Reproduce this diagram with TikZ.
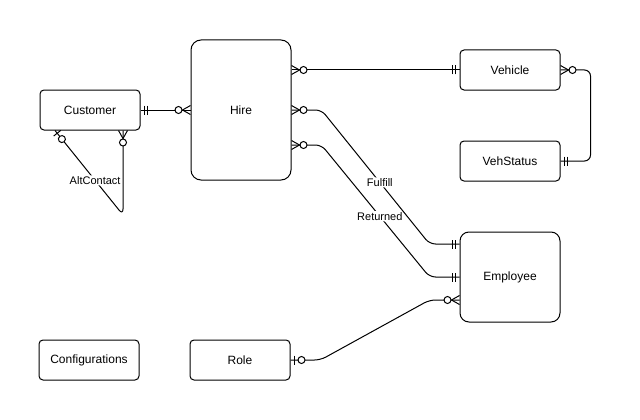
\documentclass[tikz,border=0pt]{standalone}
\usepackage{fontspec}
\setmainfont{Liberation Sans}
\usetikzlibrary{positioning, decorations.markings}

\tikzstyle{entity} = [rectangle, rounded corners=4pt, minimum width=100pt, minimum height=40pt, text centered, draw=black, fill=white]
\tikzstyle{rel} = [rounded corners=6pt]
\tikzstyle{lbl} = [fill=white, inner sep=1pt, font=\fontsize{11}{13}\selectfont]

\tikzset{
  mone/.pic={\draw[sharp corners] (4,-4.5) -- (4,4.5) (7,-4.5) -- (7,4.5);},
  zone/.pic={\draw[sharp corners] (3.5,-4.5) -- (3.5,4.5); \draw[fill=white] (11,0) circle (3.5);},
  zmany/.pic={\draw[sharp corners] (0,-4.5) -- (8,0) -- (0,4.5); \draw[fill=white] (12,0) circle (3.5);},
  srcmark/.style={postaction={decorate, decoration={markings, mark=at position 0 with {\pic[transform shape]{#1};}}}},
  dstmark/.style={postaction={decorate, decoration={markings, mark=at position 1 with {\pic[transform shape, rotate=180]{#1};}}}},
}

\begin{document}
\begin{tikzpicture}[x=1pt, y=-1pt, line width=1pt, font=\fontsize{12}{14}\selectfont]
\useasboundingbox (0,0) rectangle (640,420);

\node (customer) [entity] at (90,110) {Customer};

\node (hire) [entity, minimum height=140pt, rounded corners=10pt, right=50pt of customer] {Hire};

\node (vehicle) [entity] at (510,70) {Vehicle};

\node (vehstatus) [entity, below=50pt of vehicle] {VehStatus};

\node (employee) [entity, minimum height=90pt, rounded corners=9pt, below=50pt of vehstatus] {Employee};

\node (role) [entity] at (240,360) {Role};

\node (configurations) [entity, left=50pt of role] {Configurations};

\coordinate (loop) at (123,215);

\draw [rel, srcmark=mone, dstmark=zmany] (customer) -- (hire);
\draw [rel, srcmark=zmany, dstmark=mone] (hire.east |- vehicle.west) -- (vehicle.west);
\draw [rel, srcmark=zmany, dstmark=mone] (vehicle.east) -- ++(30pt,0) |- (vehstatus.east);
\draw [rel, srcmark=zmany, dstmark=mone] (hire.east) -- ++(30pt,0) -- node[lbl, pos=0.54] {Fulfill} ([xshift=-30pt, yshift=33pt]employee.west) -- ([yshift=33pt]employee.west);
\draw [rel, srcmark=zmany, dstmark=mone] ([yshift=-35pt]hire.east) -- ++(30pt,0) -- node[lbl, pos=0.54] {Returned} ([xshift=-30pt]employee.west) -- (employee.west);
\draw [rel, srcmark=zone, dstmark=zmany] (role.east) -- ++(30pt,0) -- ([xshift=-30pt, yshift=-23pt]employee.west) -- ([yshift=-23pt]employee.west);
\draw [rel, srcmark=zone, dstmark=zmany] ([xshift=-35pt]customer.south) -- node[lbl, pos=0.59] {AltContact} (loop) -- ([xshift=33pt]customer.south);

\end{tikzpicture}
\end{document}
